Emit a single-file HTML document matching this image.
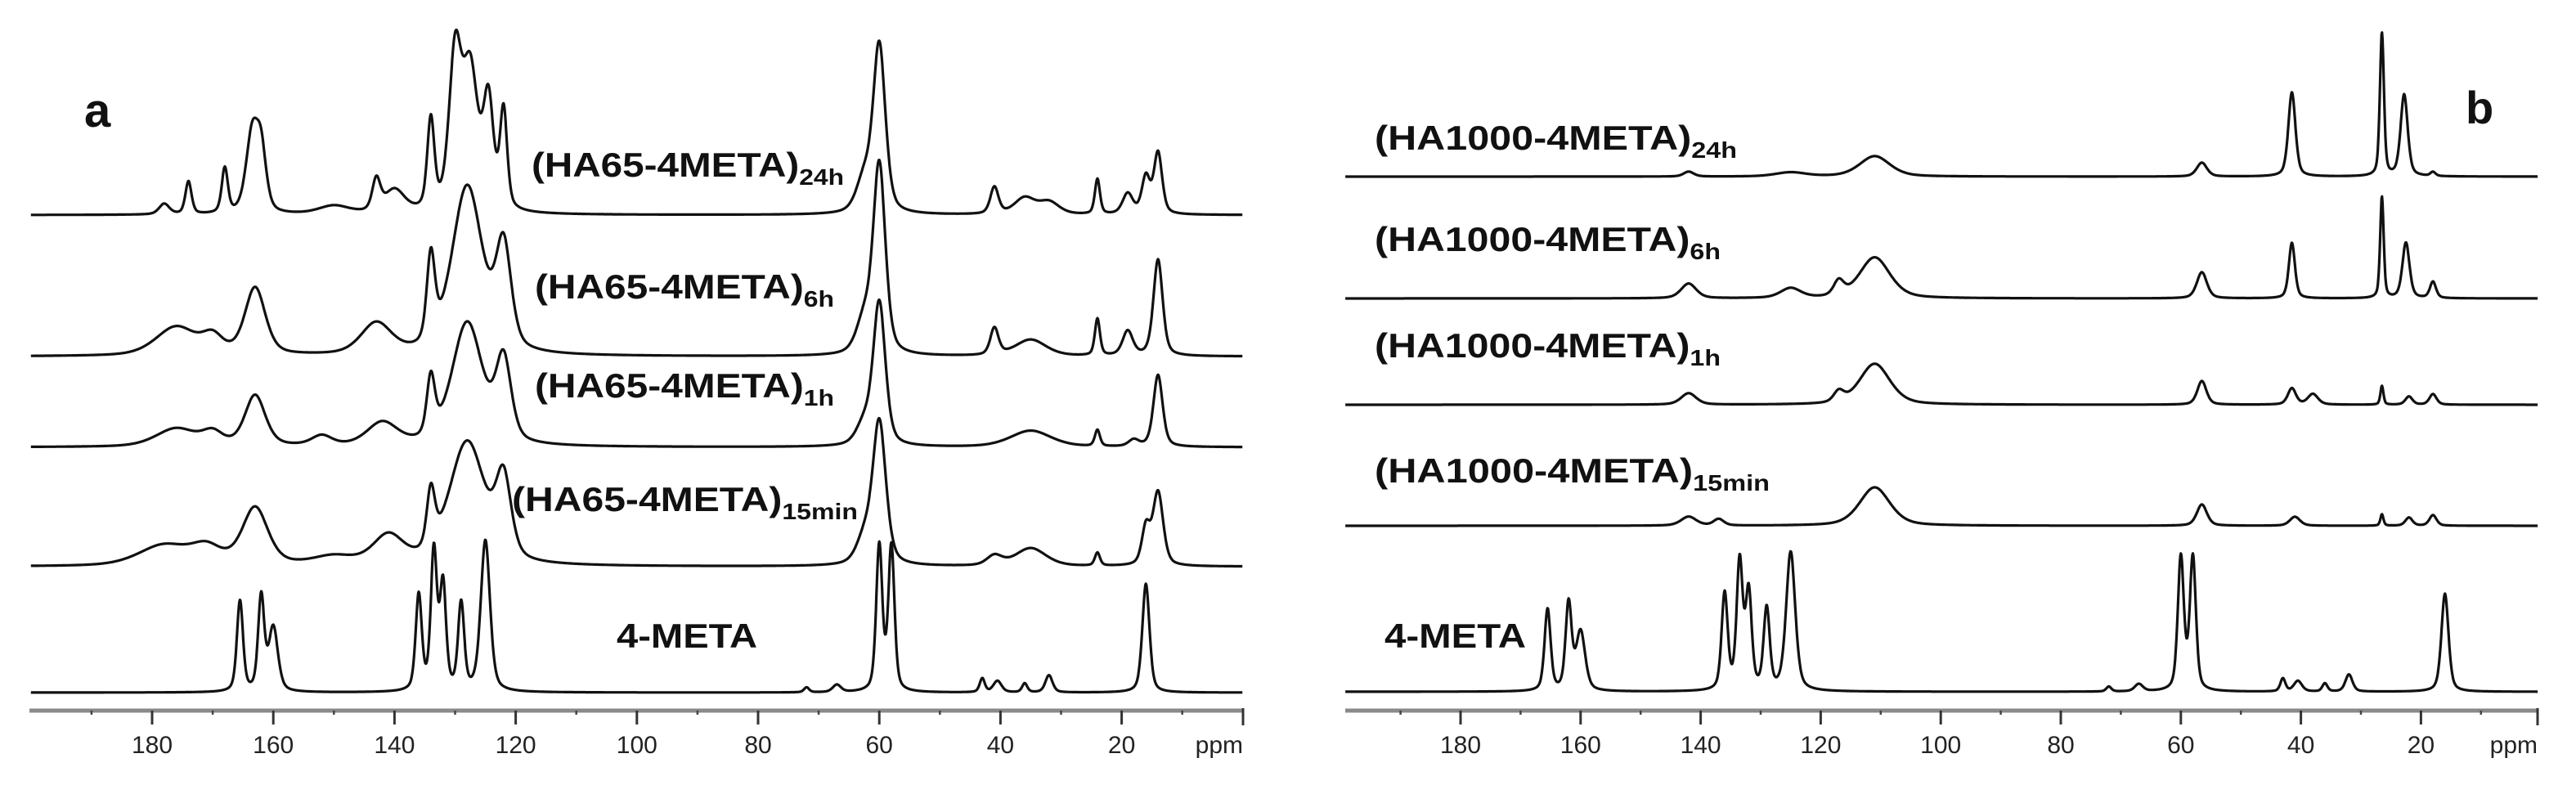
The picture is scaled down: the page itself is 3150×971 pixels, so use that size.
<!DOCTYPE html>
<html><head><meta charset="utf-8"><style>
html,body{margin:0;padding:0;background:#fff;}
svg{display:block;}
text{font-family:"Liberation Sans",Arial,sans-serif;}
.lbl{font-weight:bold;font-size:42px;fill:#111;}
.tick{font-size:30px;fill:#222;}
</style></head><body>
<svg id="chart" width="3150" height="971" viewBox="0 0 3150 971" xmlns="http://www.w3.org/2000/svg">
<g id="panelA"></g>
<g id="panelB"></g>
<text x="103" y="155" style="font-weight:bold;font-size:58px;fill:#111">a</text>
<text x="3015" y="151" style="font-weight:bold;font-size:56px;fill:#111">b</text>
<text class="lbl" x="650" y="216" textLength="382" lengthAdjust="spacingAndGlyphs">(HA65-4META)<tspan dy="10" font-size="28">24h</tspan></text>
<text class="lbl" x="654" y="365" textLength="366" lengthAdjust="spacingAndGlyphs">(HA65-4META)<tspan dy="10" font-size="28">6h</tspan></text>
<text class="lbl" x="654" y="486" textLength="366" lengthAdjust="spacingAndGlyphs">(HA65-4META)<tspan dy="10" font-size="28">1h</tspan></text>
<text class="lbl" x="626" y="625" textLength="423" lengthAdjust="spacingAndGlyphs">(HA65-4META)<tspan dy="10" font-size="28">15min</tspan></text>
<text class="lbl" x="754" y="792" textLength="172" lengthAdjust="spacingAndGlyphs">4-META</text>
<text class="lbl" x="1681" y="183" textLength="443" lengthAdjust="spacingAndGlyphs">(HA1000-4META)<tspan dy="10" font-size="28">24h</tspan></text>
<text class="lbl" x="1681" y="307" textLength="423" lengthAdjust="spacingAndGlyphs">(HA1000-4META)<tspan dy="10" font-size="28">6h</tspan></text>
<text class="lbl" x="1681" y="437" textLength="423" lengthAdjust="spacingAndGlyphs">(HA1000-4META)<tspan dy="10" font-size="28">1h</tspan></text>
<text class="lbl" x="1681" y="590" textLength="483" lengthAdjust="spacingAndGlyphs">(HA1000-4META)<tspan dy="10" font-size="28">15min</tspan></text>
<text class="lbl" x="1693" y="792" textLength="173" lengthAdjust="spacingAndGlyphs">4-META</text>
</svg>
<script>
// tick labels
const tickValues = [180,160,140,120,100,80,60,40,20];
const minorTicks = [190,170,150,130,110,90,70,50,30,10];
// 4-META reference
const metaPos = [165.5,162,160,136,133.5,132,129,125,72,67,60,58,43,40.5,36,32,16];
const metaHgtA = [111,115,78,117,170,128,106,185,6,9,178,177,17,14,11,21,133];
const metaHgtB = [100,106,72,118,156,118,99,170,6,9,163,163,16,13,10,21,120];
const metaWid = [0.6,0.6,0.9,0.6,0.6,0.6,0.6,0.9,0.5,0.8,0.6,0.6,0.5,0.8,0.5,0.7,0.7];
// panel a
const a15Pos = [178,171,163,150,141,134,128,122,62.5,60,41,35,24,16,14];
const a15Hgt = [25,20,70,10,35,70,150,95,30,175,12,22,16,45,90];
const a15Wid = [5,3,2.5,4,3,0.8,3.5,1.5,1.5,1.3,1.5,3,0.5,0.8,1];
const a1Pos = [176,170,163,152,142,134,128,122,62.5,60,35,24,18,14];
const a1Hgt = [22,15,62,12,28,72,150,100,25,175,20,20,8,88];
const a1Wid = [4,2,2,2,3,0.8,3,1.5,1.5,1.2,4,0.5,1,0.9];
const a6Pos = [176,170,163,143,134,128,122,62.5,60,41,35,24,19,14];
const a6Hgt = [35,20,82,38,105,205,125,40,232,33,20,45,30,118];
const a6Wid = [4,2,2,3,0.8,3,1.5,1.5,1.2,0.8,3,0.5,1,0.9];
const a24Pos = [178,174,168,163.5,162,150,143,140,134,130,127.5,124.5,122,62.5,60,41,36,32,24,19,16,14];
const a24Hgt = [13,40,55,95,70,10,38,28,110,185,170,130,120,40,205,33,20,15,43,25,45,75];
const a24Wid = [1,0.6,0.6,1.2,1,3,0.8,2,0.7,1.2,1.5,1,0.7,1.5,1.2,0.8,2,2,0.5,1,0.8,0.8];
// panel b
const b15Pos = [142,137,111,56.5,41,26.5,22,18];
const b15Hgt = [11,8,47,26,11,14,10,13];
const b15Wid = [1.5,1,3,1,1,0.3,0.7,0.7];
const b1Pos = [142,117,111,56.5,41.5,38,26.5,22,18];
const b1Hgt = [14,13,50,29,20,13,23,10,13];
const b1Wid = [1.5,1,3,0.9,0.8,1,0.3,0.7,0.7];
const b6Pos = [142,125,117,111,56.5,41.5,26.5,22.5,18];
const b6Hgt = [18,12,18,50,32,68,124,68,20];
const b6Wid = [1.5,2,1,3,1,0.6,0.35,0.7,0.6];
const b24Pos = [142,125,111,56.5,41.5,26.5,22.8,18];
const b24Hgt = [6,5,25,17,103,175,100,5];
const b24Wid = [1,3,3,1,0.7,0.4,0.7,0.5];

const NS = "http://www.w3.org/2000/svg";
function mk(tag, attrs, parent){const e=document.createElementNS(NS,tag);for(const k in attrs)e.setAttribute(k,attrs[k]);parent.appendChild(e);return e;}

const panels = {
  a:{g:document.getElementById('panelA'), x0:186, k:7.41, left:36, right:1520, pMax:200, pMin:0},
  b:{g:document.getElementById('panelB'), x0:1786, k:7.34, left:1645, right:3103, pMax:199.2, pMin:0.5}
};
function xs(p, ppm){return p.x0 + (180-ppm)*p.k;}
function yPx(base, v){return base - v;}
function shape(ppm,pos,h,w){
  let s=0;
  for(let i=0;i<pos.length;i++){
    const d=(ppm-pos[i])/w[i];
    s += h[i]*(0.55*Math.exp(-Math.LN2*d*d) + 0.45/(1+d*d));
  }
  return s;
}
function spectrum(p, base, pos, h, w, name){
  let d='';
  for(let ppm=p.pMax; ppm>=p.pMin; ppm-=0.08){
    const x=xs(p,ppm), y=yPx(base, shape(ppm,pos,h,w));
    d += (d?'L':'M') + x.toFixed(1)+','+y.toFixed(1);
  }
  const el=mk('path',{d:d,fill:'none',stroke:'#111','stroke-width':3.2,'stroke-linejoin':'round'},p.g);
  
  
}
function axis(p, id){
  const ax=mk('line',{x1:p.left,x2:p.right,y1:869,y2:869,stroke:'#8a8a8a','stroke-width':5},p.g);
  
  
  tickValues.forEach(v=>{
    const x=xs(p,v);
    const t=mk('line',{x1:x,x2:x,y1:869,y2:886,stroke:'#333','stroke-width':3},p.g);
    
    
    const l=mk('text',{x:x,y:921,'text-anchor':'middle','class':'tick'},p.g);
    l.textContent=v;
    
    
  });
  minorTicks.forEach(v=>{
    const x=xs(p,v);
    const t=mk('line',{x1:x,x2:x,y1:869,y2:874,stroke:'#444','stroke-width':2.5},p.g);
    
    
  });
  const e=mk('line',{x1:p.right,x2:p.right,y1:866,y2:887,stroke:'#333','stroke-width':3},p.g);
  
  
  const u=mk('text',{x:p.right,y:921,'text-anchor':'end','class':'tick'},p.g);
  u.textContent='ppm';
  
  
}
const A=panels.a, B=panels.b;
axis(A,'panel-a'); axis(B,'panel-b');
spectrum(A,263,a24Pos,a24Hgt,a24Wid,'spectrum-ha65-24h');
spectrum(A,436,a6Pos,a6Hgt,a6Wid,'spectrum-ha65-6h');
spectrum(A,547,a1Pos,a1Hgt,a1Wid,'spectrum-ha65-1h');
spectrum(A,693,a15Pos,a15Hgt,a15Wid,'spectrum-ha65-15min');
spectrum(A,847,metaPos,metaHgtA,metaWid,'spectrum-4meta-a');
spectrum(B,216,b24Pos,b24Hgt,b24Wid,'spectrum-ha1000-24h');
spectrum(B,365,b6Pos,b6Hgt,b6Wid,'spectrum-ha1000-6h');
spectrum(B,495,b1Pos,b1Hgt,b1Wid,'spectrum-ha1000-1h');
spectrum(B,643,b15Pos,b15Hgt,b15Wid,'spectrum-ha1000-15min');
spectrum(B,846,metaPos,metaHgtB,metaWid,'spectrum-4meta-b');
</script>
</body></html>
